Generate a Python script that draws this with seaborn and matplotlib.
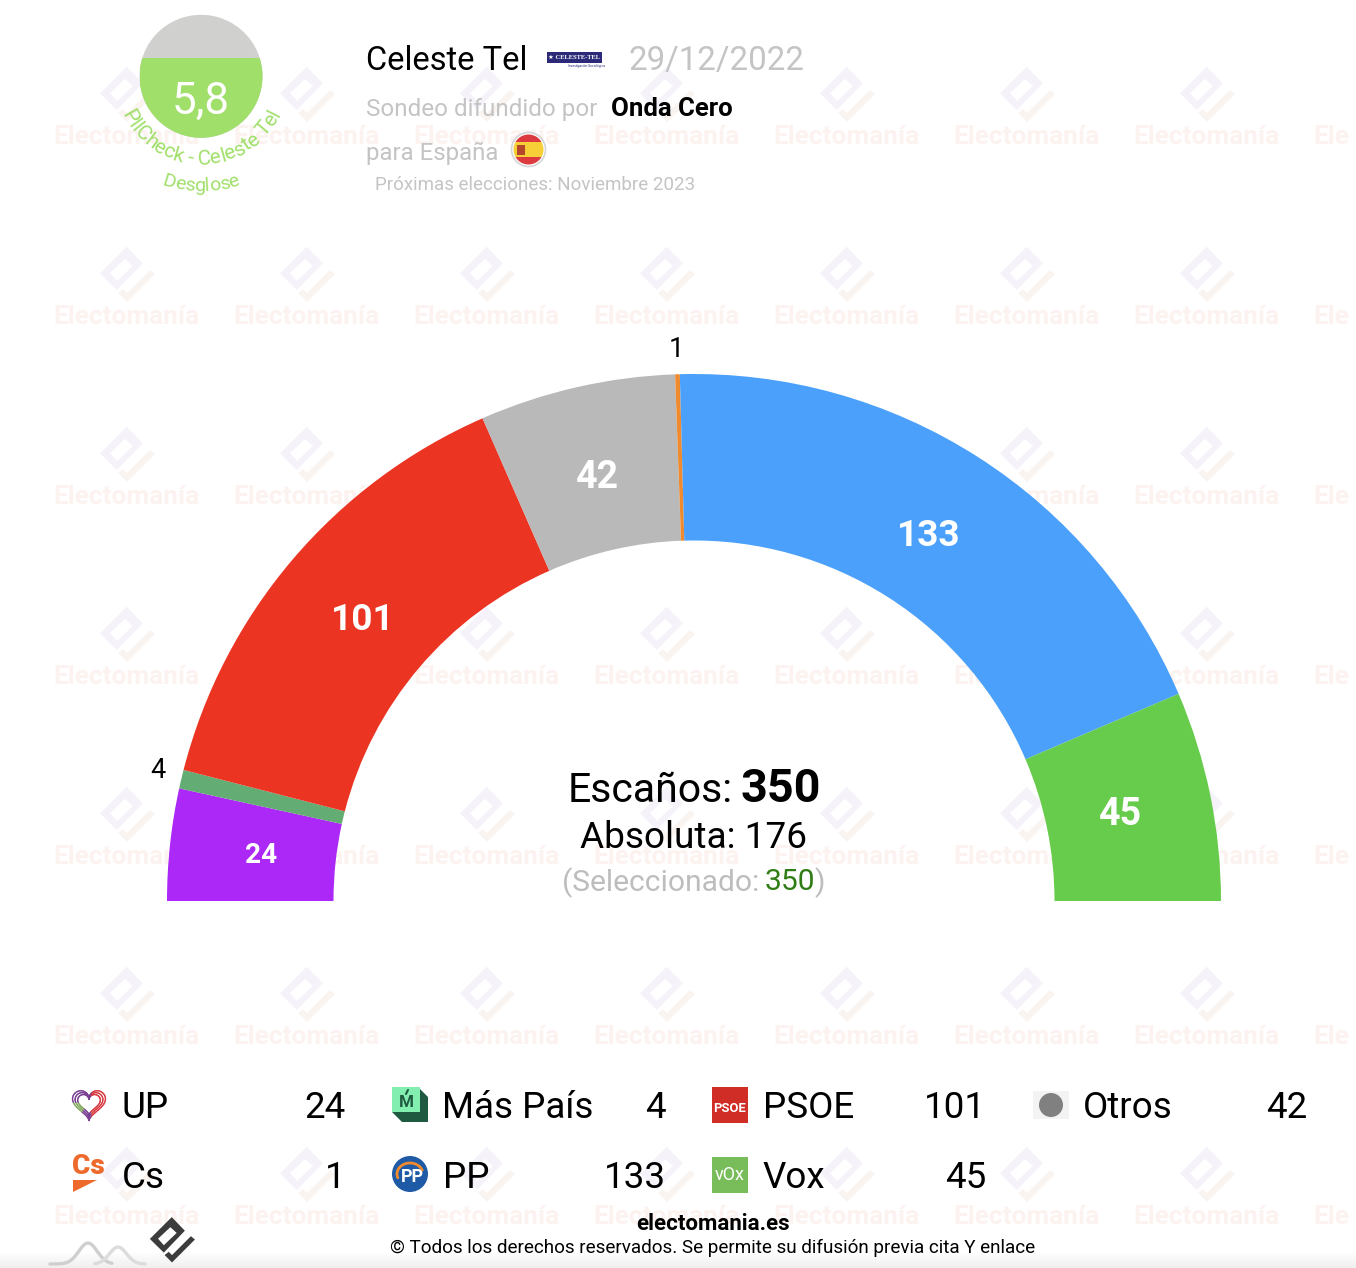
import matplotlib
matplotlib.use("Agg")
import matplotlib.pyplot as plt
import numpy as np
import seaborn as sns
from matplotlib.patches import Circle, Polygon, Rectangle
from matplotlib.textpath import TextPath
from matplotlib.font_manager import FontProperties

# Data
parties = ["UP", "Más País", "PSOE", "Otros", "Cs", "PP", "Vox"]
seats = [24, 4, 101, 42, 1, 133, 45]
party_colors = ["#ab28f6", "#63ad74", "#ec3423", "#b9b9b9", "#f08a2e", "#4aa0fa", "#67cb4b"]
pollster = "Celeste Tel"
poll_date = "29/12/2022"
media = "Onda Cero"
region = "España"
next_election = "Noviembre 2023"
pilcheck_score = "5,8"
total_seats = 350
majority = 176
selected = 350

W, H = 1356, 1268
sns.set_theme(style="white")
plt.rcParams["font.family"] = ["Roboto", "DejaVu Sans"]

fig = plt.figure(figsize=(W / 100, H / 100), dpi=100)
ax = fig.add_axes([0, 0, 1, 1])


def py(y):
    # picture rows run downwards, the axes run upwards
    return H - y


def fs(px):
    return px * 0.72


def put(x, y, s, px, color="black", ha="left", weight="normal", **kw):
    # roboto sits a bit high with va=center, hence the nudge
    return ax.text(x, py(y + 1.5), s, fontsize=fs(px), color=color, ha=ha, va="center",
                   fontweight=weight, **kw)


def logo_mark(cx, cy, scale, body, hook, hole="white", z=0):
    # the Electomanía mark, local coordinates centred on the diamond
    b = [(-0.3, -27.3), (15.7, -10.7), (-10, 16), (-27, -0.7)]
    s = [(-17, -1), (-2, -15), (5.7, -8), (-10, 7)]
    h = [(23, -4), (28, 0), (0, 28), (-9, 19), (-4, 15), (0, 19)]
    for pts, c in ((b, body), (s, hole), (h, hook)):
        ax.add_patch(Polygon([(cx + scale * a, py(cy + scale * d)) for a, d in pts],
                             closed=True, fc=c, ec="none", zorder=z))


# Watermark tiles
for ty in range(135, 1300, 180):
    for tx in range(127, 1500, 180):
        logo_mark(tx, ty - 41, 1.0, "#f5f2fa", "#faf4f1")
        put(tx - 1, ty + 1, "Electomanía", 26.3, color="#fcf2ef", ha="center", weight="bold", zorder=0)
# the picture stops a few pixels before its right edge
ax.add_patch(Rectangle((1350, 0), W - 1350, H, fc="white", ec="none", zorder=0.2))

# Soft shadow along the bottom edge
for i in range(16):
    ax.add_patch(Rectangle((0, 0), W, 16 - i, fc="#808080", ec="none", alpha=0.005, zorder=0.5))

# Hemicycle: the hidden slice takes the lower half of the pie
cx, cy, r_out, r_in = 694, 901, 527, 360.5
wedges, _ = ax.pie(seats + [sum(seats)],
                   colors=sns.color_palette(party_colors) + ["none"],
                   startangle=180, counterclock=False, center=(cx, py(cy)), radius=r_out,
                   frame=True, wedgeprops=dict(width=r_out - r_in, linewidth=0, zorder=2))

label_px = [28, 0, 37, 37.5, 0, 37, 37.5]
cum = 0
for n, lp in zip(seats, label_px):
    mid = np.pi * (cum + n / 2) / sum(seats)
    cum += n
    if lp:
        rm = 435
        ax.text(cx - rm * np.cos(mid), py(cy + 1) + rm * np.sin(mid), str(n), color="white",
                fontsize=fs(lp), fontweight="bold", ha="center", va="center", zorder=3)
put(676, 348, str(seats[4]), 27, ha="center")
put(158, 769, str(seats[1]), 27, ha="center")

# Centre block
put(733, 789, "Escaños:", 41, ha="right", zorder=3)
put(741, 788, str(total_seats), 46.8, weight="bold", zorder=3)
put(694, 836, f"Absoluta: {majority}", 37, ha="center", zorder=3)
put(562, 881, "(Seleccionado:", 30, color="#bdbdbd", zorder=3)
put(765, 881, str(selected), 30, color="#2f7d14", zorder=3)
put(814, 881, ")", 30, color="#bdbdbd", zorder=3)

# Header
put(366, 59, pollster, 32.7)
put(628, 59, poll_date, 33, color="#c4c4c4")
put(366, 108, "Sondeo difundido por", 24.3, color="#c4c4c4")
put(611, 108, media, 25.8, weight="bold")
put(366, 152, f"para {region}", 24, color="#c4c4c4")
put(375, 184, f"Próximas elecciones: {next_election}", 18.8, color="#c4c4c4")

# Pollster logo
ax.add_patch(Rectangle((547, py(63)), 55, 11, fc="#2c2a78", ec="none", zorder=3))
put(574, 56, "★ CELESTE-TEL", 6.5, color="white", ha="center", weight="bold", zorder=4,
    family=["Liberation Serif", "DejaVu Sans"])
put(586, 64, "Investigación Sociológica", 3.2, color="#2c2a78", ha="center", zorder=4)

# Flag
ax.add_patch(Circle((528.5, py(149.5)), 17, fc="white", ec="#d5d5d5", lw=1.2, zorder=3))
flag_in = Circle((528.5, py(149.5)), 15, transform=ax.transData)
for top, h_, c in ((133, 9, "#dc3a3f"), (142, 15, "#f7d038"), (157, 9, "#dc3a3f")):
    ax.add_patch(Rectangle((510, py(top + h_)), 37, h_, fc=c, ec="none", zorder=4, clip_path=flag_in))
ax.add_patch(Rectangle((517, py(155)), 8, 10, fc="#b5482a", ec="none", zorder=5))

# PILcheck badge
bx, by, br = 201, 76.3, 61.5
ax.add_patch(Circle((bx, py(by)), br, fc="#d0d0ce", ec="none", zorder=3))
ax.add_patch(Rectangle((bx - br, py(by + br)), 2 * br, by + br - 57.7, fc="#a0df6a", ec="none",
                       zorder=4, clip_path=Circle((bx, py(by)), br, transform=ax.transData)))
put(bx, 100, pilcheck_score, 44, color="white", ha="center", zorder=5)


def arc_text(s, radius, px, color):
    # letters one by one along a smile under the badge
    fp = FontProperties(family="Roboto", size=px)
    bar = TextPath((0, 0), "|", prop=fp).get_extents().x1
    adv = [TextPath((0, 0), s[:i + 1] + "|", prop=fp).get_extents().x1 - bar for i in range(len(s))]
    starts = [0] + adv[:-1]
    total = adv[-1]
    for ch, a, b in zip(s, starts, adv):
        t = ((a + b) / 2 - total / 2) / radius
        ax.text(bx + radius * np.sin(t), py(by + radius * np.cos(t)), ch, color=color,
                fontsize=fs(px), ha="center", va="baseline", rotation=np.degrees(t),
                rotation_mode="anchor", zorder=5)


arc_text(f"PllCheck - {pollster}", 88, 20.8, "#a0df6a")
arc_text("Desglose", 115, 19.5, "#a0df6a")

# Legend
col_x = [72, 392, 712, 1033]
row_y = [1105, 1175]
name_dx = [49.5, 50.5, 50.5, 49.5]
val_right = [346, 666, 986, 1307]


def draw_icon(name, x, y):
    if name == "UP":
        t = np.linspace(0, 2 * np.pi, 73)
        hx, hy = 16 * np.sin(t) ** 3, 13 * np.cos(t) - 5 * np.cos(2 * t) - 2 * np.cos(3 * t) - np.cos(4 * t)
        for sc in (1.03, 0.87, 0.71):
            for k in range(len(t) - 1):
                # red on the right, violet on top, green low on the left
                if hx[k] > 3:
                    c = "#d8383f"
                elif hx[k] < -6 and hy[k] < 0:
                    c = "#7fa85a"
                else:
                    c = "#7a3f92"
                ax.plot(x + 17 + sc * hx[k:k + 2], py(y - 2) + sc * hy[k:k + 2], color=c, lw=1.0, zorder=3)
    elif name == "Más País":
        ax.add_patch(Polygon([(x, py(y + 7)), (x + 10, py(y + 17)), (x + 36, py(y + 17)), (x + 36, py(y - 8)),
                              (x + 26, py(y - 18)), (x, py(y - 18))], fc="#1f5a40", ec="none", zorder=3))
        ax.add_patch(Rectangle((x, py(y + 7)), 28, 25, fc="#82eeb0", ec="none", zorder=4))
        put(x + 14, y - 4, "M", 17, color="#1f5a40", ha="center", weight="bold", zorder=5)
        ax.plot([x + 14, x + 16], [py(y - 11), py(y - 15)], color="#1f5a40", lw=1.5, zorder=5)
    elif name == "PSOE":
        ax.add_patch(Rectangle((x, py(y + 18)), 36, 36, fc="#d02d27", ec="none", zorder=3))
        put(x + 18, y + 2, "PSOE", 13, color="white", ha="center", weight="bold", zorder=4)
    elif name == "Otros":
        ax.add_patch(Rectangle((x, py(y + 14)), 36, 28, fc="#f3f3f3", ec="none", zorder=3))
        ax.add_patch(Circle((x + 18, py(y)), 12, fc="#808080", ec="none", zorder=4))
    elif name == "Cs":
        put(x + 16, y - 10, "Cs", 28, color="#ee6a2c", ha="center", weight="black", zorder=3)
        ax.add_patch(Polygon([(x + 1, py(y + 5)), (x + 25, py(y + 5)), (x + 1, py(y + 17))], fc="#ee6a2c",
                             ec="none", zorder=3))
    elif name == "PP":
        ax.add_patch(Circle((x + 18, py(y - 1)), 18, fc="#1f5aa6", ec="none", zorder=3))
        th = np.linspace(np.radians(20), np.radians(200), 40)
        ax.plot(x + 18 + 13 * np.cos(th), py(y - 1) + 11 * np.sin(th), color="#f08a2e", lw=2, zorder=4)
        put(x + 20, y, "PP", 18, color="white", ha="center", weight="bold", zorder=5)
    elif name == "Vox":
        ax.add_patch(Rectangle((x, py(y + 18)), 36, 36, fc="#79bd5a", ec="none", zorder=3))
        put(x + 18, y - 2, "vOx", 18, color="white", ha="center", zorder=4)


for i, (name, n) in enumerate(zip(parties, seats)):
    col, row = i % 4, i // 4
    y = row_y[row]
    draw_icon(name, col_x[col], y)
    put(col_x[col] + name_dx[col], y + 1, name, 36.8, zorder=3)
    put(val_right[col], y + 1, str(n), 36.8, ha="right", zorder=3)

# Footer
put(713, 1222, "electomania.es", 22.3, ha="center", weight="bold", zorder=3)
put(713, 1246, "© Todos los derechos reservados. Se permite su difusión previa cita Y enlace", 18.9,
    ha="center", zorder=3)
logo_mark(172, 1239.5, 0.82, "#3c3c3c", "#3c3c3c", z=3)
# two small hills, only a drawn ornament
hx1 = np.linspace(50, 112, 40)
hx2 = np.linspace(95, 145, 40)
ax.plot(hx1, py(1264 - 21 * np.exp(-((hx1 - 88) / 13) ** 2)), color="#cfcfcf", lw=2.4, zorder=3)
ax.plot(hx2, py(1264 - 17 * np.exp(-((hx2 - 118) / 12) ** 2)), color="#dcdcdc", lw=2.4, zorder=3)

ax.set_xlim(0, W)
ax.set_ylim(0, H)
ax.set_aspect("auto")
ax.axis("off")

fig.savefig("out.png", dpi=100, facecolor="white")
